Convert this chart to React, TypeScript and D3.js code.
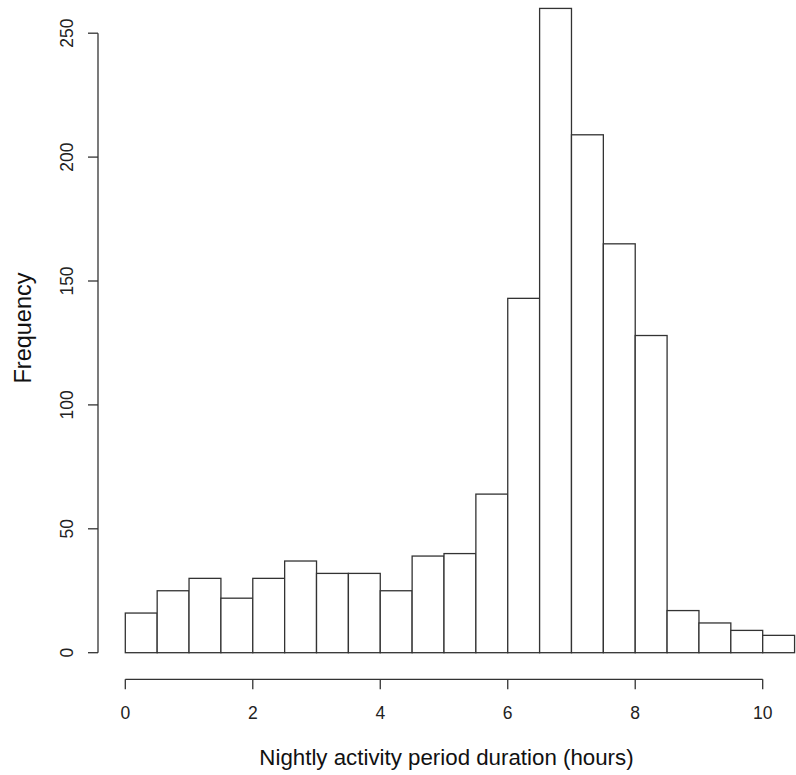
import React from "react";
import * as d3 from "d3";

// histogram bins (hours), width 0.5
const binStarts = [0, 0.5, 1, 1.5, 2, 2.5, 3, 3.5, 4, 4.5, 5, 5.5, 6, 6.5, 7, 7.5, 8, 8.5, 9, 9.5, 10];
const counts = [16, 25, 30, 22, 30, 37, 32, 32, 25, 39, 40, 64, 143, 260, 209, 165, 128, 17, 12, 9, 7];
const binWidth = 0.5;
const xTicks = [0, 2, 4, 6, 8, 10];
const yTicks = [0, 50, 100, 150, 200, 250];

const xLabel = "Nightly activity period duration (hours)";
const yLabel = "Frequency";

const W = 796;
const H = 775;
const font = "'Liberation Sans', Arial, sans-serif";
const ink = "#333";

function App() {
    const x = d3.scaleLinear().domain([0, 10]).range([125.3, 762.7]);
    const y = d3.scaleLinear().domain([0, 250]).range([652.7, 33.2]);

    const axisY = 679.3;
    const axisX = 98;

    return (
        <svg width={W} height={H} style={{ position: "absolute", left: 0, top: 0, background: "#fff" }}>
            {/* bars */}
            <g>
                {counts.map((c, i) => (
                    <rect
                        key={i}
                        x={x(binStarts[i])}
                        y={y(c)}
                        width={x(binStarts[i] + binWidth) - x(binStarts[i])}
                        height={y(0) - y(c)}
                        fill="#fff"
                        stroke={ink}
                        strokeWidth={1.3}
                    />
                ))}
            </g>

            {/* x axis */}
            <g>
                <line x1={x(xTicks[0])} x2={x(xTicks[xTicks.length - 1])} y1={axisY} y2={axisY} stroke={ink} strokeWidth={1.3} />
                {xTicks.map(t => (
                    <g key={t}>
                        <line x1={x(t)} x2={x(t)} y1={axisY} y2={axisY + 10} stroke={ink} strokeWidth={1.3} />
                        <text x={x(t)} y={719} textAnchor="middle" fontFamily={font} fontSize={17.5} fill="#222">{t}</text>
                    </g>
                ))}
                <text x={446.5} y={765} textAnchor="middle" fontFamily={font} fontSize={22.3} fill="#111">{xLabel}</text>
            </g>

            {/* y axis */}
            <g>
                <line x1={axisX} x2={axisX} y1={y(yTicks[0])} y2={y(yTicks[yTicks.length - 1])} stroke={ink} strokeWidth={1.3} />
                {yTicks.map(t => (
                    <g key={t}>
                        <line x1={axisX - 10} x2={axisX} y1={y(t)} y2={y(t)} stroke={ink} strokeWidth={1.3} />
                        <text
                            transform={`translate(73, ${y(t)}) rotate(-90)`}
                            textAnchor="middle"
                            fontFamily={font}
                            fontSize={17.5}
                            fill="#222"
                        >{t}</text>
                    </g>
                ))}
                <text
                    transform={`translate(31, 328) rotate(-90)`}
                    textAnchor="middle"
                    fontFamily={font}
                    fontSize={23.5}
                    fill="#111"
                >{yLabel}</text>
            </g>
        </svg>
    );
}

export default App;
